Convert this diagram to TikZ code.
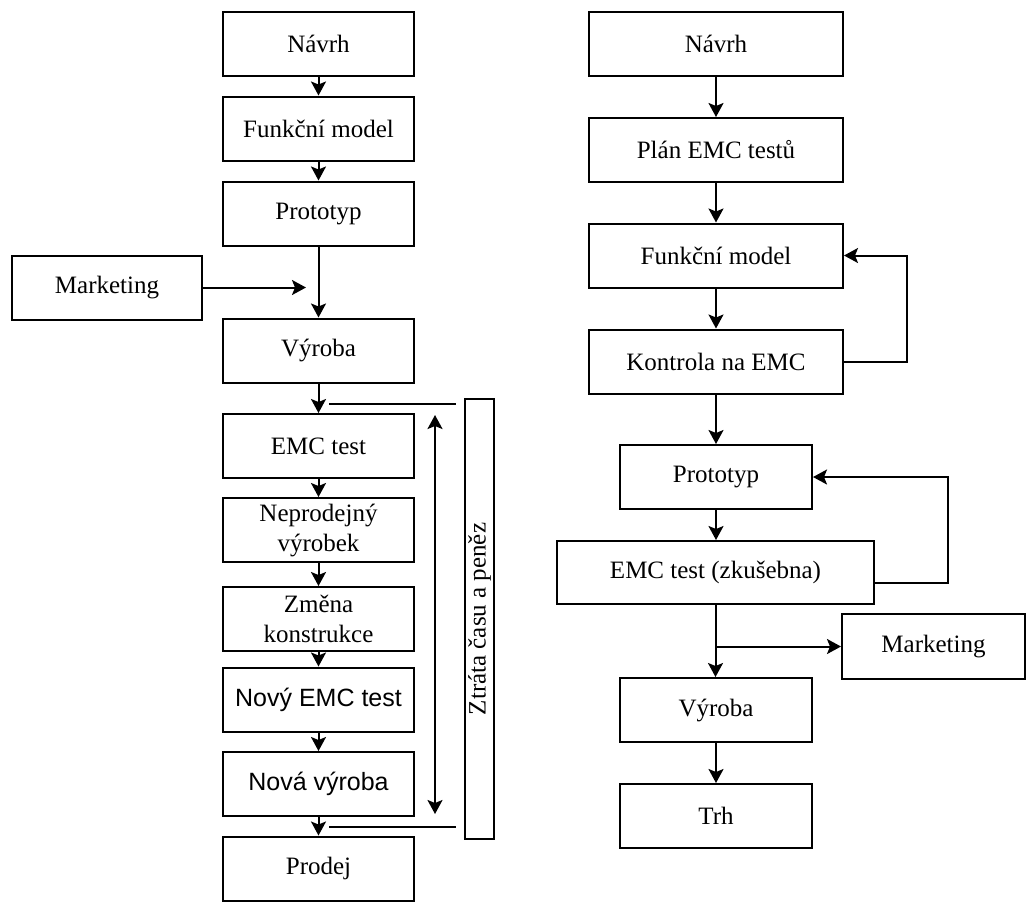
\documentclass[tikz,border=0pt]{standalone}
\usepackage{fontspec}
\setmainfont{Liberation Serif}
\newfontfamily\arialfont{Liberation Sans}
\usetikzlibrary{arrows.meta,calc}

\begin{document}
\begin{tikzpicture}[x=0.5pt,y=-0.5pt,
  box/.style={draw,line width=1pt,rectangle,inner sep=0pt,align=center,
    font=\fontsize{12.5}{15}\selectfont},
  colbox/.style={box,minimum width=95.5pt,minimum height=32pt},
  widebox/.style={box,minimum width=127pt,minimum height=32pt},
  arr/.style={line width=1pt,-{Stealth[length=7pt,width=7.5pt,inset=1.5pt]}},
  dblarr/.style={line width=1pt,{Stealth[length=7pt,width=7.5pt,inset=1.5pt]}-{Stealth[length=7pt,width=7.5pt,inset=1.5pt]}},
  plain/.style={line width=1pt}]

\useasboundingbox (0,0) rectangle (1027,902);

% ---------- left flow: conventional development ----------
\node[colbox] (ln)   at (318.5,44)    {Návrh};
\node[colbox] (lfm)  at (318.5,128.5) {Funkční model};
\node[colbox] (lpr)  at (318.5,213.5) {Prototyp};
\node[box,minimum width=95pt,minimum height=32pt] (lmk) at (107,287.5) {Marketing};
\node[colbox] (lvy)  at (318.5,350.5) {Výroba};
\node[colbox] (lemc) at (318.5,446)   {EMC test};
\node[colbox] (lnp)  at (318.5,530)   {Neprodejný\\výrobek};
\node[colbox] (lzk)  at (318.5,619)   {Změna\\konstrukce};
\node[colbox,font=\arialfont\fontsize{12.5}{15}\selectfont] (lnt) at (318.5,699.5) {Nový EMC test};
\node[colbox,font=\arialfont\fontsize{12.5}{15}\selectfont] (lnv) at (318.5,784)   {Nová výroba};
\node[colbox] (lpd)  at (318.5,868.5) {Prodej};

\node[box,rotate=90,minimum width=220pt,minimum height=14.5pt] (loss) at (479.5,619) {Ztráta času a peněz};

\draw[arr] (ln)  -- (lfm);
\draw[arr] (lfm) -- (lpr);
\draw[arr] (lpr) -- (lvy);
\coordinate (mkend) at (306,287.5);
\draw[arr] (lmk.east) -- (mkend);
\draw[arr] (lvy) -- (lemc);
\draw[arr] (lemc) -- (lnp);
\draw[arr] (lnp) -- (lzk);
\draw[arr] (lzk) -- (lnt);
\draw[arr] (lnt) -- (lnv);
\draw[arr] (lnv) -- (lpd);

% span of the lost time and money
\coordinate (spanTa) at (329,404);
\coordinate (spanTb) at (456,404);
\coordinate (spanBa) at (329,827);
\coordinate (spanBb) at (456,827);
\draw[plain] (spanTa) -- (spanTb);
\draw[plain] (spanBa) -- (spanBb);
\coordinate (spanUp) at (435,415);
\coordinate (spanDn) at (435,814);
\draw[dblarr] (spanUp) -- (spanDn);

% ---------- right flow: EMC planned from the start ----------
\node[widebox] (rn)   at (716,44)    {Návrh};
\node[widebox] (rpl)  at (716,150)   {Plán EMC testů};
\node[widebox] (rfm)  at (716,255.5) {Funkční model};
\node[widebox] (rko)  at (716,361.5) {Kontrola na EMC};
\node[box,minimum width=96pt,minimum height=32pt] (rpr) at (716,477) {Prototyp};
\node[box,minimum width=158.5pt,minimum height=31.5pt] (remc) at (715.5,572.5) {EMC test (zkušebna)};
\node[box,minimum width=91.5pt,minimum height=32.5pt] (rmk) at (933.5,646.5) {Marketing};
\node[box,minimum width=96pt,minimum height=32pt] (rvy) at (716,710) {Výroba};
\node[box,minimum width=96pt,minimum height=32pt] (rtr) at (716,816) {Trh};

\draw[arr] (rn)  -- (rpl);
\draw[arr] (rpl) -- (rfm);
\draw[arr] (rfm) -- (rko);
\draw[arr] (rko.south) -- (rpr.north);
\draw[arr] (rpr.south) -- (rpr.south |- remc.north);
\draw[arr] (remc.south) -- (remc.south |- rvy.north);
\draw[arr] (remc.south |- rmk.west) -- (rmk.west);
\draw[arr] (rvy) -- (rtr);

% feedback loops
\draw[arr] (rko.east) -- (907,361.5) |- (rfm.east);
\draw[arr] ($(remc.east)+(0,10.5)$) -- (948,583) |- (rpr.east);

\end{tikzpicture}
\end{document}
